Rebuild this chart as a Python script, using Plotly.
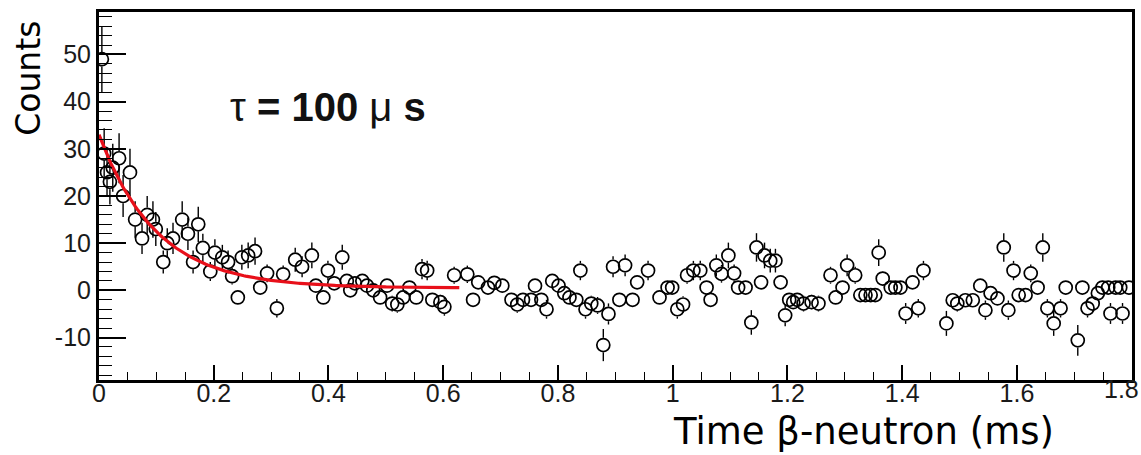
import numpy as np
import plotly.graph_objects as go

# ---- data ----
time_ms = [0.005, 0.009, 0.014, 0.019, 0.024, 0.035, 0.042, 0.054, 0.063, 0.075,
           0.084, 0.094, 0.099, 0.112, 0.119, 0.129, 0.145, 0.155, 0.164, 0.173,
           0.181, 0.194, 0.202, 0.215, 0.225, 0.232, 0.242, 0.249, 0.260, 0.272,
           0.281, 0.293, 0.310, 0.321, 0.342, 0.354, 0.371, 0.378, 0.391, 0.399,
           0.410, 0.424, 0.432, 0.438, 0.446, 0.459, 0.467, 0.478, 0.490, 0.502,
           0.511, 0.520, 0.530, 0.541, 0.553, 0.563, 0.572, 0.581, 0.595, 0.602,
           0.619, 0.642, 0.652, 0.661, 0.678, 0.689, 0.703, 0.719, 0.729, 0.739,
           0.753, 0.760, 0.771, 0.780, 0.790, 0.801, 0.811, 0.820, 0.832, 0.839,
           0.848, 0.858, 0.869, 0.879, 0.888, 0.896, 0.907, 0.917, 0.930, 0.938,
           0.957, 0.977, 0.991, 0.999, 1.008, 1.018, 1.025, 1.036, 1.048, 1.059,
           1.066, 1.076, 1.085, 1.097, 1.107, 1.114, 1.127, 1.137, 1.146, 1.154,
           1.160, 1.170, 1.179, 1.188, 1.196, 1.203, 1.210, 1.217, 1.228, 1.242,
           1.254, 1.275, 1.284, 1.296, 1.304, 1.318, 1.327, 1.336, 1.345, 1.353,
           1.359, 1.366, 1.380, 1.388, 1.397, 1.406, 1.418, 1.428, 1.437, 1.477,
           1.488, 1.496, 1.510, 1.523, 1.536, 1.545, 1.554, 1.566, 1.577, 1.585,
           1.594, 1.603, 1.615, 1.624, 1.636, 1.645, 1.653, 1.664, 1.676, 1.685,
           1.706, 1.714, 1.723, 1.732, 1.741, 1.749, 1.759, 1.763, 1.772, 1.780,
           1.784, 1.795]
counts = [49, 29, 25, 23, 26, 28, 20, 25, 15, 11,
          16, 15, 13, 6, 10, 11, 15, 12, 6, 14,
          9, 4, 8, 7, 6, 3, -1.5, 7, 7.4, 8.3,
          0.6, 3.6, -3.8, 3.4, 6.5, 5, 7.4, 1, -1.5, 4.2,
          1.5, 7, 2, 0, 1.5, 2, 1, 0, -1.5, 1,
          -2.8, -3, -1.5, 0.6, -1.5, 4.5, 4.2, -2, -2.5, -3.5,
          3.2, 3.4, -2, 1.7, 0.6, 1.6, 1, -2, -3, -2,
          -2, 1, -2, -4, 2, 1, -0.6, -1.5, -2, 4.2,
          -4, -2.8, -3.2, -11.6, -5, 5, -2, 5.3, -2, 1.7,
          4.2, -1.5, 0.6, 0.6, -4, -3, 3.2, 4.2, 4.2, 0.6,
          -2, 5.3, 3.5, 7.4, 3.6, 0.6, 0.6, -6.8, 9.1, 1.7,
          7.4, 6.3, 6.3, 1.7, -5.3, -2, -2.5, -2, -2.8, -2.5,
          -2.8, 3.2, -1.5, 0.6, 5.3, 3.2, -1, -1, -1, -1,
          8, 2.5, 0.6, 0.6, 0.6, -4.9, 1.7, -3.8, 4.2, -7,
          -2.1, -2.8, -2.1, -2.1, 1, -4.2, -0.6, -1.7, 9.1, -4.2,
          4.2, -1, -1, 3.6, 0.6, 9.1, -3.8, -7, -3.8, 0.6,
          -10.6, 0.6, -3.8, -2.8, -0.6, 0.6, 0.6, -4.9, 0.6, 0.6,
          -4.9, 0.6]

# exponential fit shown in the figure (tau = 100 us)
fit_amp = 32.5
fit_tau_ms = 0.100
fit_const = 0.5
fit_t_end = 0.628

x_ticks = [0, 0.2, 0.4, 0.6, 0.8, 1.0, 1.2, 1.4, 1.6, 1.8]
x_ticktext = ["0", "0.2", "0.4", "0.6", "0.8", "1", "1.2", "1.4", "1.6", ""]
x_last_label = "1.8"   # drawn as an annotation so it stays inside the page edge
y_ticks = [-10, 0, 10, 20, 30, 40, 50]
y_ticktext = ["-10", "0", "10", "20", "30", "40", "50"]
x_range = [0, 1.8005]
y_range = [-19, 59]

# ---- layout geometry ----
W, H = 1141, 455
M = dict(l=99, r=9, t=12, b=75)
marker_d = 13

t = np.array(time_ms)
y = np.array(counts, dtype=float)
err = np.sqrt(np.maximum(np.abs(y), 1.0))

# error bars drawn outside the open markers (ROOT style)
plot_h = H - M["t"] - M["b"]
r_data = (marker_d / 2 + 0.8) / (plot_h / (y_range[1] - y_range[0]))
ex, ey = [], []
for xi, yi, ei in zip(t, y, err):
    if ei > r_data:
        ex += [xi, xi, None, xi, xi, None]
        ey += [yi + r_data, yi + ei, None, yi - r_data, yi - ei, None]

tf = np.linspace(0, fit_t_end, 200)
yf = fit_amp * np.exp(-tf / fit_tau_ms) + fit_const

fig = go.Figure()
fig.add_trace(go.Scatter(x=ex, y=ey, mode="lines",
                         line=dict(color="black", width=1.4),
                         hoverinfo="skip", showlegend=False))
fig.add_trace(go.Scatter(x=t, y=y, mode="markers",
                         marker=dict(symbol="circle-open", size=marker_d,
                                     color="black", line=dict(width=1.7, color="black")),
                         showlegend=False))
fig.add_trace(go.Scatter(x=tf, y=yf, mode="lines",
                         line=dict(color="#e8101a", width=3.2),
                         showlegend=False))

tickfont = dict(family="Liberation Sans, Arial, sans-serif", size=25, color="#1a1a1a")
fig.update_layout(
    width=W, height=H, margin=M, autosize=False,
    paper_bgcolor="white", plot_bgcolor="white",
    showlegend=False,
    xaxis=dict(range=x_range, tickmode="array", tickvals=x_ticks, ticktext=x_ticktext,
               ticks="inside", ticklen=15, tickwidth=1.5, tickcolor="black",
               minor=dict(dtick=0.05, tick0=0, ticks="inside", ticklen=8,
                          tickwidth=1.3, tickcolor="black", showgrid=False),
               showline=True, linewidth=3, linecolor="black", mirror=True,
               showgrid=False, zeroline=False, tickfont=tickfont, automargin=False,
               ticklabelstandoff=-11, ticklabeloverflow="allow"),
    yaxis=dict(range=y_range, tickmode="array", tickvals=y_ticks, ticktext=y_ticktext,
               ticks="inside", ticklen=27, tickwidth=1.5, tickcolor="black",
               minor=dict(dtick=2, tick0=0, ticks="inside", ticklen=13,
                          tickwidth=1.3, tickcolor="black", showgrid=False),
               showline=True, linewidth=3, linecolor="black", mirror=True,
               showgrid=False, zeroline=False, tickfont=tickfont, automargin=False),
    annotations=[
        dict(text="Counts", xref="paper", yref="paper", x=-0.0678, y=0.821,
             xanchor="center", yanchor="middle", textangle=-90, showarrow=False,
             font=dict(family="DejaVu Sans", size=33, color="black")),
        dict(text="Time β-neutron (ms)", xref="paper", yref="paper", x=0.7396, y=-0.141,
             xanchor="center", yanchor="middle", showarrow=False,
             font=dict(family="DejaVu Sans", size=37, color="black")),
        dict(text="τ <b>= 100</b> μ <b>s</b>", xref="paper", yref="paper", x=0.1249, y=0.742,
             xanchor="left", yanchor="middle", showarrow=False,
             font=dict(family="Liberation Sans, Arial, sans-serif", size=40, color="#111111")),
        dict(text=x_last_label, xref="x", yref="paper", x=x_ticks[-1], y=0,
             xanchor="right", yanchor="top", xshift=9, yshift=7, showarrow=False,
             font=tickfont),
    ],
)

fig.write_html("out.html", config={"displayModeBar": False},
               post_script="document.body.style.margin='0';document.body.style.overflow='hidden';")
